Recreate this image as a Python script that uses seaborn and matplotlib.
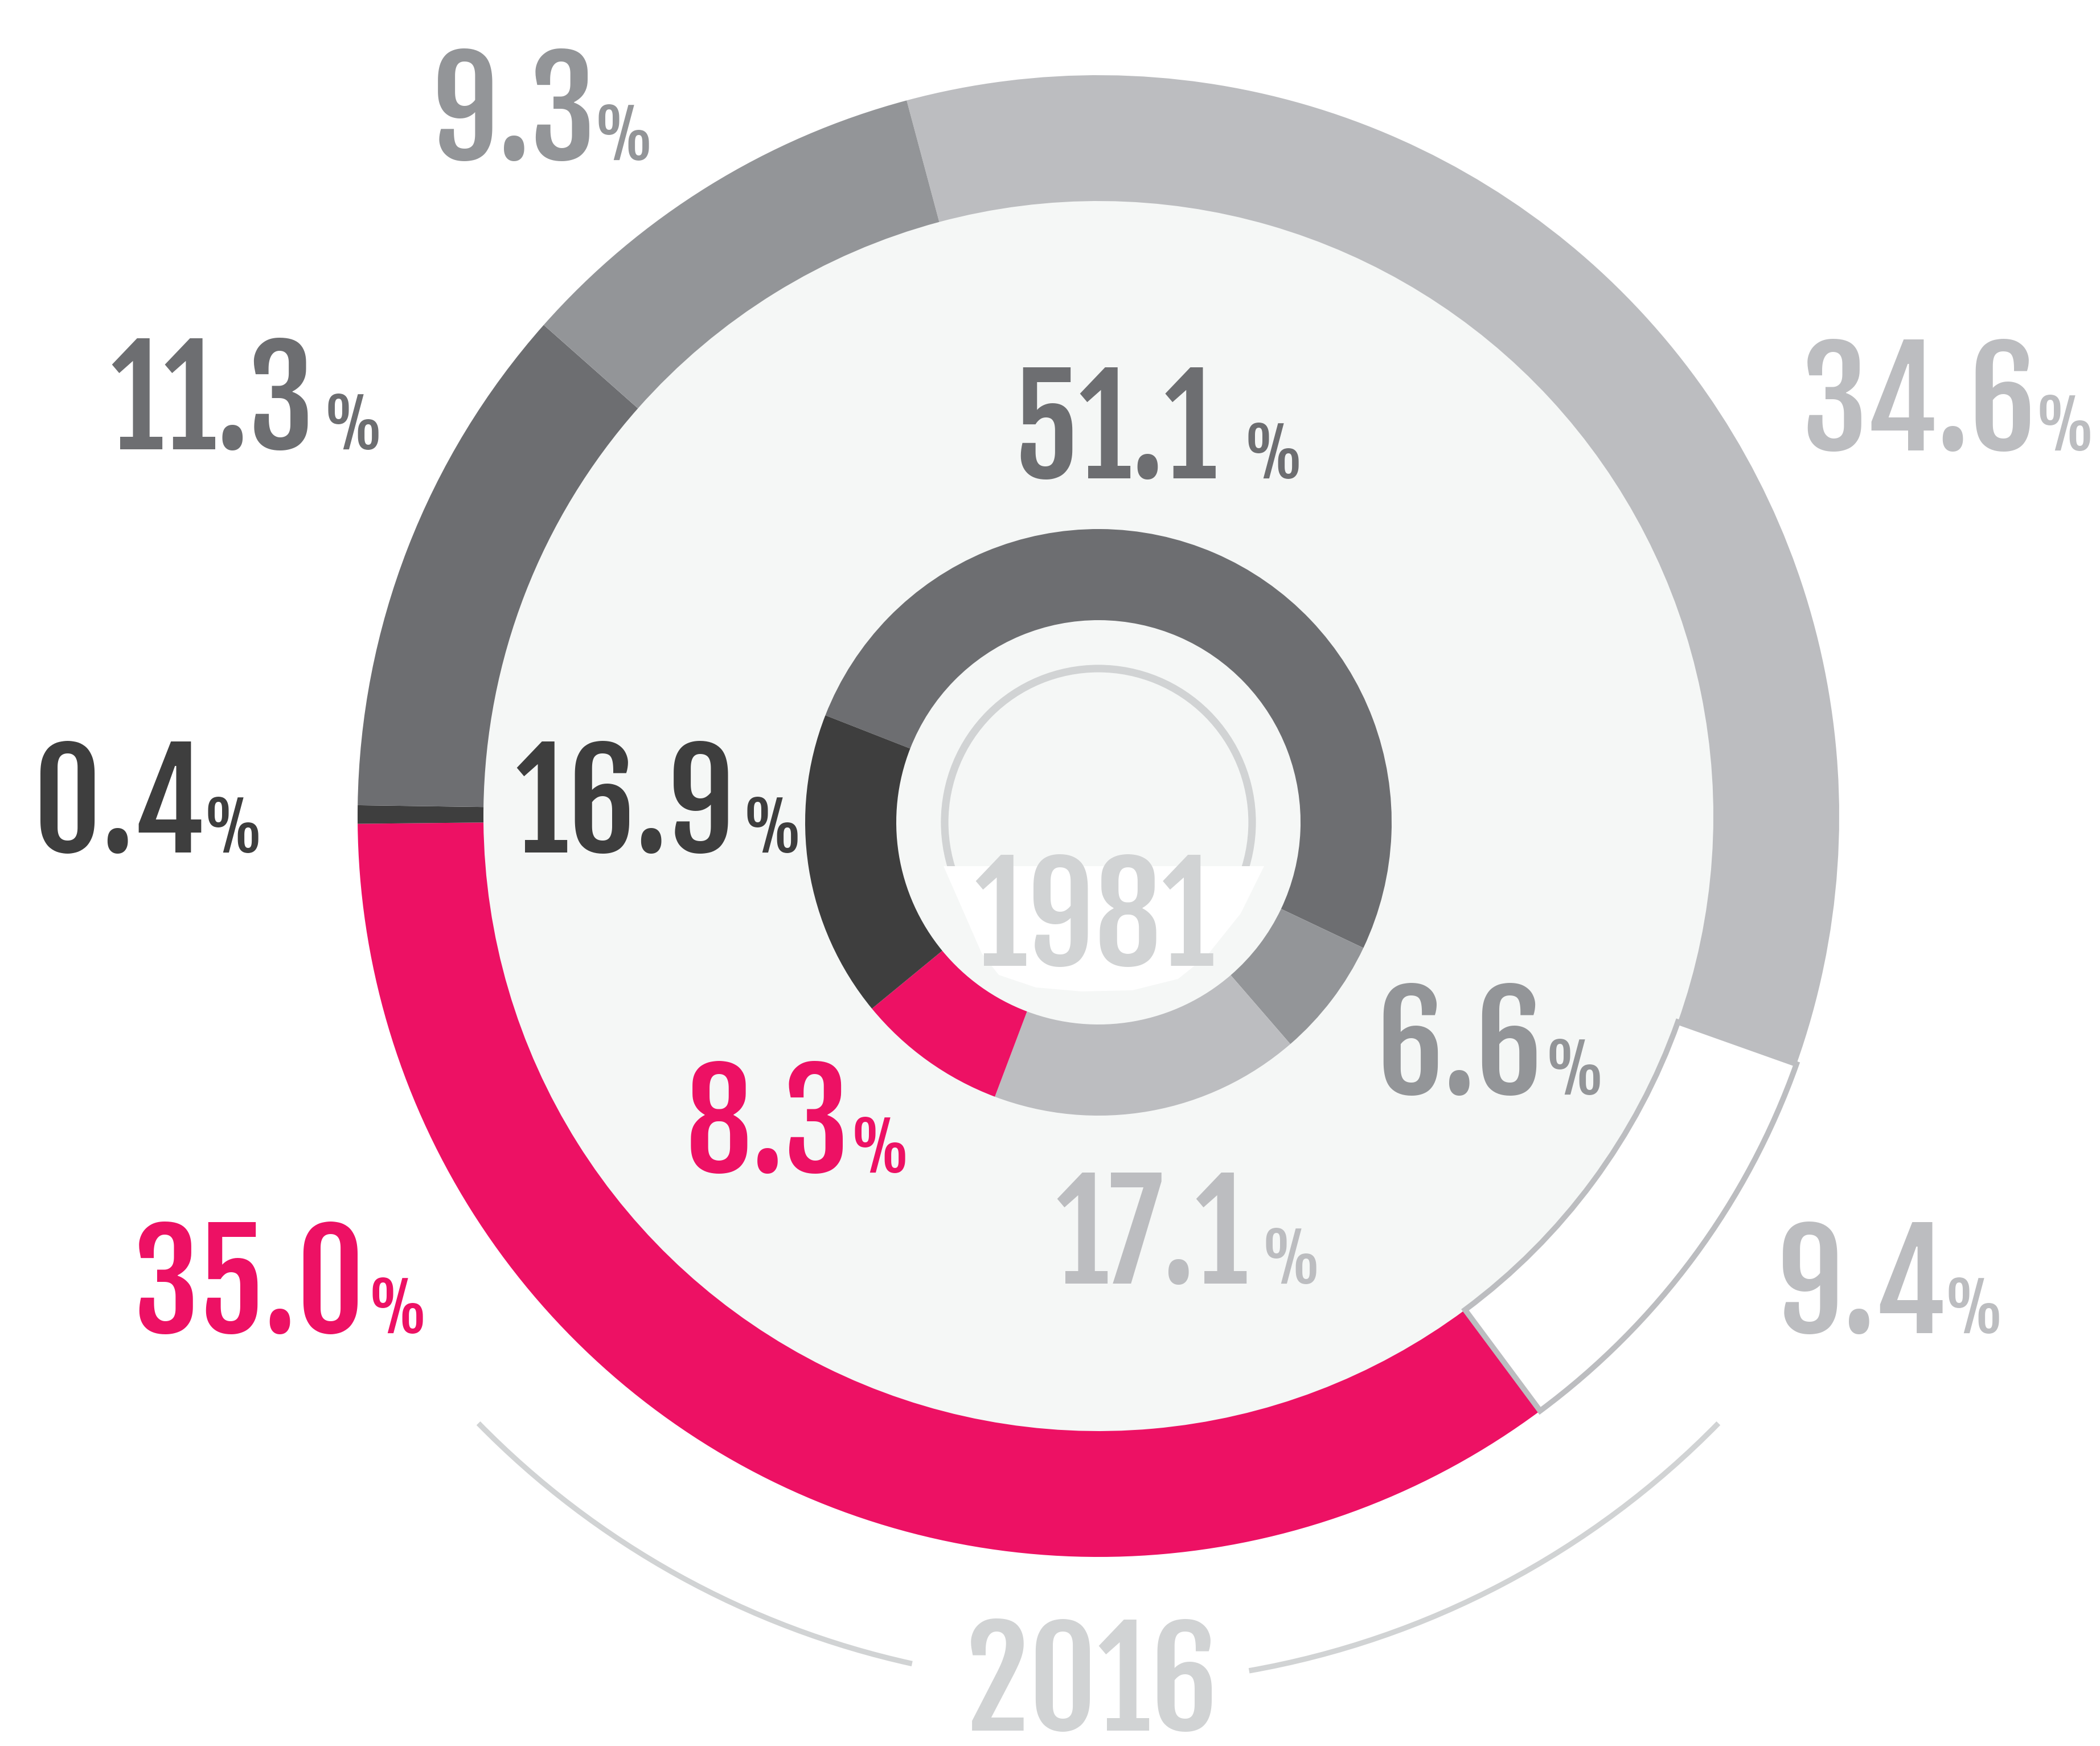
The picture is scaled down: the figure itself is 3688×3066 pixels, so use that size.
import matplotlib
matplotlib.use("Agg")
import matplotlib.pyplot as plt
import seaborn as sns
from matplotlib import font_manager
from matplotlib.font_manager import FontProperties
from matplotlib.textpath import TextPath
from matplotlib.patches import Circle, Arc, Polygon

# ---------------- data ----------------
outer_values = [34.6, 9.4, 35.0, 0.4, 11.3, 9.3]        # 2016 ring
inner_values = [51.1, 6.6, 17.1, 8.3, 16.9]             # 1981 ring
outer_year = "2016"
inner_year = "1981"

# ---------------- style ----------------
sns.set_theme(style="white")
PINK = "#ed1164"
DARK = "#3e3e3e"
GRAY1 = "#6d6e71"
GRAY2 = "#939598"
GRAY3 = "#bcbdc0"
YEARC = "#d1d3d4"
BG = "#f5f7f6"

outer_colors = [GRAY3, "white", PINK, DARK, GRAY1, GRAY2]
inner_colors = [GRAY1, GRAY2, GRAY3, PINK, DARK]
outer_text_colors = [GRAY3, GRAY3, PINK, DARK, GRAY1, GRAY2]
inner_text_colors = [GRAY1, GRAY2, GRAY3, PINK, DARK]

available = {f.name for f in font_manager.fontManager.ttflist}
FONT, WEIGHT = "DejaVu Sans", "bold"
for fam, w in [("Fjalla One", "normal"), ("Barlow Condensed", "bold"),
               ("Roboto Condensed", "bold"), ("DejaVu Sans", "bold")]:
    if fam in available:
        FONT, WEIGHT = fam, w
        break
plt.rcParams["font.family"] = [FONT, "DejaVu Sans"]

DPI = 100
K = DPI / 72.0          # points -> pixels (data units are pixels)
W, H = 3688, 3066
S = W / 1568.0          # layout below measured on a 1568-wide view

fig = plt.figure(figsize=(W / DPI, H / DPI), dpi=DPI)
fig.patch.set_facecolor("white")
ax = fig.add_axes([0, 0, 1, 1])

OC = (1929, 1633)   # outer centre
IC = (1929, 1622)   # inner centre
R_OUT, W_OUT = 1301, 221
R_IN, W_IN = 515, 160

ax.add_patch(Circle(OC, R_OUT - W_OUT + 2, facecolor=BG, edgecolor="none", zorder=0))

wedges_o, _ = ax.pie(outer_values, radius=R_OUT, center=OC, startangle=105,
                     counterclock=False, colors=outer_colors,
                     wedgeprops=dict(width=W_OUT, linewidth=0))
wedges_o[1].set_edgecolor(GRAY3)
wedges_o[1].set_linewidth(7)
wedges_o[1].set_joinstyle("miter")
wedges_o[1].set_zorder(1.5)

wedges_i, _ = ax.pie(inner_values, radius=R_IN, center=IC, startangle=158.6,
                     counterclock=False, colors=inner_colors,
                     wedgeprops=dict(width=W_IN, linewidth=0))

ax.add_patch(Circle(IC, 270, facecolor="none", edgecolor=YEARC, linewidth=9.5, zorder=3))
shape = [(-272, 77), (291, 77), (250, 160), (190, 235), (140, 275), (60, 295),
         (-30, 297), (-110, 290), (-175, 268), (-205, 230), (-240, 150)]
ax.add_patch(Polygon([(IC[0] + dx, IC[1] - dy) for dx, dy in shape], closed=True,
                     facecolor="white", edgecolor="none", zorder=4))

for t1, t2 in [(-135.6, -102.4), (-80.0, -44.4)]:
    ax.add_patch(Arc(OC, 2 * 1524, 2 * 1524, theta1=t1, theta2=t2,
                     color=YEARC, linewidth=6.8, capstyle="butt", zorder=2))

# ---------------- text helpers ----------------
def ink(s, size):
    fp = FontProperties(family=FONT, weight=WEIGHT, size=size)
    return TextPath((0, 0), s, prop=fp).get_extents()

NUM_H = 84 * S      # ink height of the big numbers
PCT_H = 42 * S      # ink height of the % sign
NUM_FS = NUM_H / (ink("34.6", 100).height / 100 * K)
PCT_FS = PCT_H / (ink("%", 100).height / 100 * K)

def to_up(y_view):
    return H - y_view * S

def label(value, color, cx_view, bottom_view, pct_left_view):
    s = f"{value:.1f}"
    e = ink(s, NUM_FS)
    cx = cx_view * S
    yb = to_up(bottom_view) - e.y0 * K
    x0 = cx - (e.x0 + e.width / 2) * K
    ax.text(x0, yb, s, color=color, fontsize=NUM_FS, fontweight=WEIGHT,
            ha="left", va="baseline", zorder=6)
    ep = ink("%", PCT_FS)
    ax.text(pct_left_view * S - ep.x0 * K, yb, "%", color=color, fontsize=PCT_FS,
            fontweight=WEIGHT, ha="left", va="baseline", zorder=6)

def year(s, cx_view, bottom_view):
    e = ink(s, NUM_FS)
    x0 = cx_view * S - (e.x0 + e.width / 2) * K
    yb = to_up(bottom_view) - e.y0 * K
    ax.text(x0, yb, s, color=YEARC, fontsize=NUM_FS, fontweight=WEIGHT,
            ha="left", va="baseline", zorder=7)

# layout: (number centre x, number bottom y, % left x) in the 1568-wide view
outer_layout = [(1432.5, 337, 1523), (1391, 996, 1455), (185.5, 996, 278),
                (90, 637, 155), (156.5, 336, 245), (383.5, 120, 447)]
inner_layout = [(835, 358, 932), (1090, 818, 1157), (860, 959, 945),
                (572.5, 876, 638), (464.5, 637, 558)]

for v, c, (cx, yb, px) in zip(outer_values, outer_text_colors, outer_layout):
    label(v, c, cx, yb, px)
for v, c, (cx, yb, px) in zip(inner_values, inner_text_colors, inner_layout):
    label(v, c, cx, yb, px)

year(inner_year, 817, 722)
year(outer_year, 815, 1293)

ax.set_xlim(0, W)
ax.set_ylim(0, H)
ax.set_aspect("equal")
ax.axis("off")
fig.savefig("out.png", dpi=DPI, facecolor="white")
